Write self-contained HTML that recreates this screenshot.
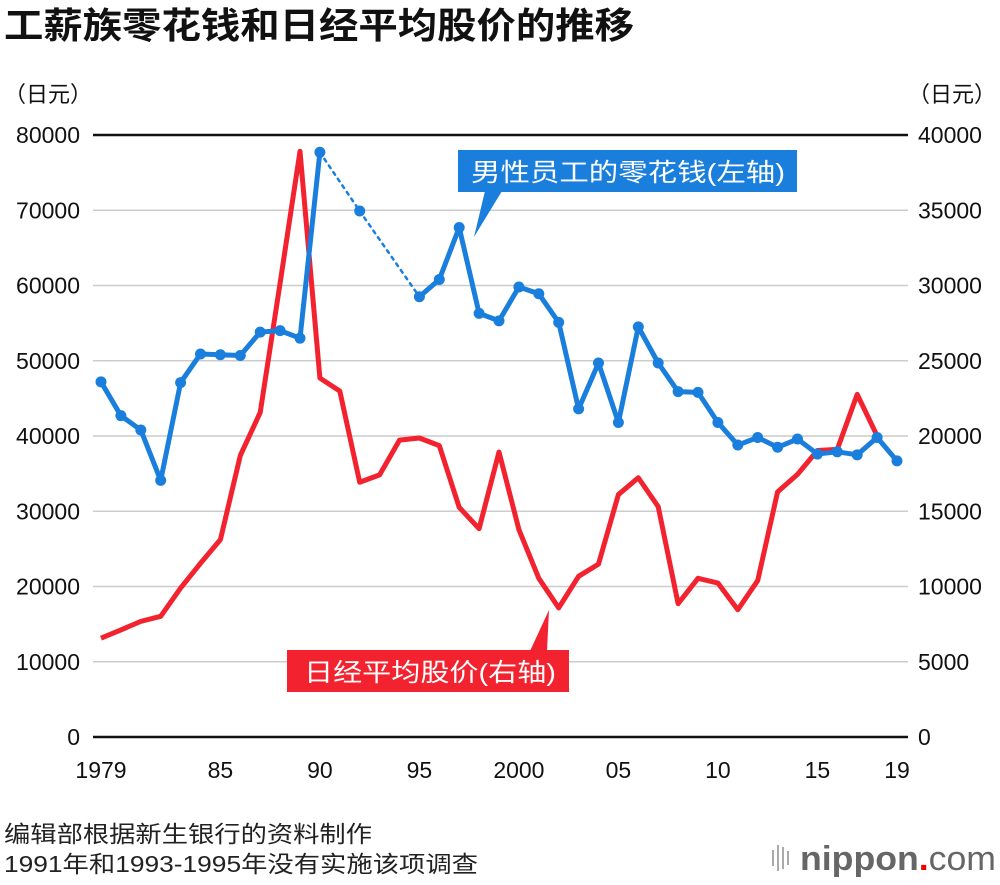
<!DOCTYPE html>
<html><head><meta charset="utf-8"><style>
body{margin:0;background:#fff;width:1000px;height:880px;overflow:hidden;font-family:"Liberation Sans","Noto Sans CJK SC",sans-serif}
</style></head><body>
<svg id="c" width="1000" height="880" xmlns="http://www.w3.org/2000/svg" font-family="'Liberation Sans','Noto Sans CJK SC',sans-serif">
<text x="4" y="38" font-size="36" font-weight="bold" fill="#111" textLength="630" lengthAdjust="spacingAndGlyphs">工薪族零花钱和日经平均股价的推移</text>
<text x="4" y="102" font-size="22" fill="#111">（日元）</text>
<text x="908" y="102" font-size="22" fill="#111">（日元）</text>
<g id="grid"></g><g id="marks"></g>
<g>
<rect x="458" y="150" width="339" height="42" fill="#1a7fdc"/>
<polygon points="485,191 502,191 474,237" fill="#1a7fdc"/>
<text x="471" y="181" font-size="25" fill="#fff" textLength="314" lengthAdjust="spacingAndGlyphs">男性员工的零花钱(左轴)</text>
</g>
<g>
<rect x="287" y="650" width="282" height="42" fill="#f2222e"/>
<polygon points="530,651 547,651 549,610" fill="#f2222e"/>
<text x="304" y="681" font-size="25" fill="#fff" textLength="252" lengthAdjust="spacingAndGlyphs">日经平均股价(右轴)</text>
</g>
<text x="4" y="842" font-size="23" fill="#222" textLength="368" lengthAdjust="spacingAndGlyphs">编辑部根据新生银行的资料制作</text>
<text x="4" y="872" font-size="23" fill="#222" textLength="474" lengthAdjust="spacingAndGlyphs">1991年和1993-1995年没有实施该项调查</text>
<g>
<rect x="772" y="850" width="2" height="16" fill="#aaa"/><rect x="777" y="845" width="2" height="26" fill="#aaa"/><rect x="782" y="847" width="2" height="22" fill="#aaa"/><rect x="787" y="851" width="2" height="14" fill="#aaa"/>
<text x="800" y="870" font-size="34" fill="#666" font-weight="bold" textLength="196" lengthAdjust="spacingAndGlyphs">nippon<tspan fill="#e00">.</tspan><tspan font-weight="normal">com</tspan></text>
</g>
</svg>
<script>
const years=[1979,1980,1981,1982,1983,1984,1985,1986,1987,1988,1989,1990,1991,1992,1993,1994,1995,1996,1997,1998,1999,2000,2001,2002,2003,2004,2005,2006,2007,2008,2009,2010,2011,2012,2013,2014,2015,2016,2017,2018,2019];
const allowance=[47200,42700,40800,34100,47100,50900,50800,50700,53800,54000,53000,77700,null,69900,null,null,58500,60800,67700,56300,55300,59800,58900,55100,43600,49700,41800,54500,49700,45900,45800,41800,38800,39800,38500,39600,37600,37900,37500,39800,36700];
const nikkei=[6569,7116,7682,8017,9894,11543,13113,18701,21564,30159,38916,23849,22984,16925,17417,19723,19868,19361,15259,13842,18934,13786,10543,8579,10677,11489,16111,17226,15308,8860,10546,10229,8455,10395,16291,17451,19034,19114,22765,20015,null];
const leftTicks=[0,10000,20000,30000,40000,50000,60000,70000,80000];
const rightTicks=[0,5000,10000,15000,20000,25000,30000,35000,40000];
const xLabelYears=[1979,1985,1990,1995,2000,2005,2010,2015,2019];
const xLabels=["1979","85","90","95","2000","05","10","15","19"];
const NS="http://www.w3.org/2000/svg";
const x=y=>101+(y-1979)*19.9;
const yl=v=>737-v*0.0075250;
const yr=v=>737-v*0.015050;
const grid=document.getElementById('grid'),marks=document.getElementById('marks');
function mk(t,a,p){const e=document.createElementNS(NS,t);for(const k in a)e.setAttribute(k,a[k]);p.appendChild(e);return e;}
leftTicks.forEach((v,i)=>{
 const yy=yl(v);
 const top=i===leftTicks.length-1, bot=i===0;
 const l=mk('line',{x1:93,x2:908,y1:yy,y2:yy,stroke:(top||bot)?'#111':'#ccc','stroke-width':(top||bot)?2.5:1.5},grid);
 
 
 const t=mk('text',{x:80,y:yy+8,'font-size':23,'text-anchor':'end',fill:'#111'},grid);t.textContent=v;
 
 
 const t2=mk('text',{x:918,y:yr(rightTicks[i])+8,'font-size':23,fill:'#111'},grid);t2.textContent=rightTicks[i];
 
 
});
xLabelYears.forEach((yy,i)=>{
 const t=mk('text',{x:x(yy),y:778,'font-size':23,'text-anchor':'middle',fill:'#111'},grid);t.textContent=xLabels[i];
 
 
});
let d='';nikkei.forEach((v,i)=>{if(v!==null)d+=(d?'L':'M')+x(years[i])+','+yr(v);});
const rp=mk('path',{d:d,fill:'none',stroke:'#f2222e','stroke-width':5,'stroke-linejoin':'round'},marks);


let pts=[];allowance.forEach((v,i)=>{if(v!==null)pts.push([x(years[i]),yl(v),i]);});
for(let k=1;k<pts.length;k++){
 const a=pts[k-1],b=pts[k];const gap=b[2]-a[2]>1||years[b[2]]===1992;
 const ln=mk('line',{x1:a[0],y1:a[1],x2:b[0],y2:b[1],stroke:'#1a7fdc','stroke-width':gap?2.5:5,'stroke-dasharray':gap?'3,5':'none','stroke-linecap':'round'},marks);
 
 
}
pts.forEach(p=>{
 const c=mk('circle',{cx:p[0],cy:p[1],r:5.5,fill:'#1a7fdc'},marks);
 
 
});
</script>
</body></html>
